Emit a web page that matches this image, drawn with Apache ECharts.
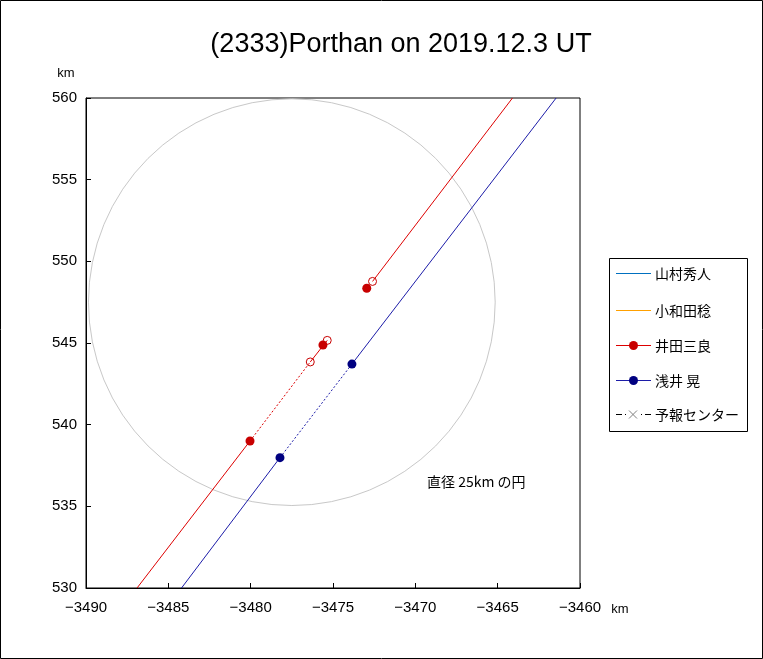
<!DOCTYPE html>
<html><head><meta charset="utf-8">
<script src="https://cdn.jsdelivr.net/npm/echarts@6/dist/echarts.min.js"></script>
<style>html,body{margin:0;padding:0;background:#fff}#c{width:763px;height:659px}</style>
</head><body><div id="c"></div>
<script>
// ---- data ----
const titleText = '(2333)Porthan on 2019.12.3 UT';
const xRange = [-3490, -3460];
const yRange = [530, 560];
const tickStep = 5;
const axisUnit = 'km';
const circleData = [[-3477.5, 547.5, 12.4]];   // centre x, centre y, radius (km)
const circleLabel = '直径 25km の円';
const legendNames = ['山村秀人', '小和田稔', '井田三良', '浅井 晃', '予報センター'];

const idaSolid1 = [[-3486.9, 530], [-3480.04, 539.0]];
const idaDotted = [[-3480.04, 539.0], [-3476.38, 543.84]];
const idaSolid2 = [[-3476.38, 543.84], [-3475.35, 545.16]];
const idaSolid3 = [[-3472.60, 548.77], [-3464.1, 560]];
const idaFilled = [[-3480.04, 539.0], [-3475.61, 544.88], [-3472.95, 548.35]];
const idaOpen = [[-3476.38, 543.84], [-3475.35, 545.16], [-3472.60, 548.77]];

const asaiSolid1 = [[-3484.2, 530], [-3478.22, 537.98]];
const asaiDotted = [[-3478.22, 537.98], [-3473.85, 543.71]];
const asaiSolid2 = [[-3473.85, 543.71], [-3461.45, 560]];
const asaiFilled = [[-3478.22, 537.98], [-3473.85, 543.71]];

// ---- styles ----
const RED_LINE = '#dd0000', RED_DOT = '#c80000';
const BLUE_LINE = '#1c1ca8', BLUE_DOT = '#000080';
const LEG_COLORS = ['#0070c0', '#ffa000', RED_LINE, BLUE_LINE, '#000000'];
const LATIN = "'Liberation Sans', Arial, sans-serif";
const CJK = "'Noto Sans CJK JP', sans-serif";

function seg(data, color, dashed) {
  return {
    type: 'line', data: data, symbol: 'none', silent: true, z: 3,
    lineStyle: { color: color, width: 1, type: dashed ? [2, 2] : 'solid', opacity: 1 }
  };
}
function dots(data, color, open) {
  return {
    type: 'scatter', data: data, symbol: 'circle', symbolSize: open ? 8 : 9, silent: true, z: 5,
    itemStyle: open ? { color: 'rgba(0,0,0,0)', borderColor: color, borderWidth: 1, opacity: 1 } : { color: color, opacity: 1 }
  };
}

const chart = echarts.init(document.getElementById('c'), null, { renderer: 'canvas' });
const fmt = v => String(v).replace('-', '\u2212');

// legend built from graphics
const legendG = [];
const legX0 = 609, legY0 = 258, legYs = [273, 310, 345, 380, 414];
legendG.push({ type: 'rect', shape: { x: legX0 + 0.5, y: legY0 + 0.5, width: 138, height: 173 },
  style: { fill: '#fff', stroke: '#000', lineWidth: 1 }, z: 20 });
legendNames.forEach((n, i) => {
  const y = legYs[i] + 0.5;
  if (i !== 4) {
    legendG.push({ type: 'line', shape: { x1: 616, y1: y, x2: 651, y2: y },
      style: { stroke: LEG_COLORS[i], lineWidth: 1 }, z: 21 });
  } else {
    [[616, 622], [625, 626], [641, 642], [645, 651]].forEach(p => {
      legendG.push({ type: 'line', shape: { x1: p[0], y1: y, x2: p[1], y2: y },
        style: { stroke: '#000', lineWidth: 1 }, z: 21 });
    });
    legendG.push({ type: 'line', shape: { x1: 629, y1: y - 4, x2: 637, y2: y + 4 }, style: { stroke: '#808080', lineWidth: 1 }, z: 23 });
    legendG.push({ type: 'line', shape: { x1: 637, y1: y - 4, x2: 629, y2: y + 4 }, style: { stroke: '#808080', lineWidth: 1 }, z: 23 });
  }
  if (i === 2 || i === 3) {
    legendG.push({ type: 'circle', shape: { cx: 633.5, cy: y, r: 4.5 },
      style: { fill: i === 2 ? RED_DOT : BLUE_DOT }, z: 22 });
  }
  legendG.push({ type: 'text', x: 655, y: y, style: { text: n, fill: '#000', font: '14px ' + CJK, verticalAlign: 'middle', align: 'left' }, z: 21 });
});

chart.setOption({
  animation: false,
  backgroundColor: '#fff',
  grid: { left: 86, top: 98, width: 494, height: 490, show: true, borderColor: '#000', borderWidth: 1, backgroundColor: '#fff' },
  xAxis: {
    type: 'value', min: xRange[0], max: xRange[1], interval: tickStep,
    axisLine: { show: true, onZero: false, lineStyle: { color: '#000', width: 1 } },
    axisTick: { show: true, inside: true, length: 5, lineStyle: { color: '#000' } },
    splitLine: { show: false },
    axisLabel: { formatter: fmt, color: '#000', fontSize: 15, fontFamily: LATIN, margin: 12 }
  },
  yAxis: {
    type: 'value', min: yRange[0], max: yRange[1], interval: tickStep,
    axisLine: { show: true, onZero: false, lineStyle: { color: '#000', width: 1 } },
    axisTick: { show: true, inside: true, length: 5, lineStyle: { color: '#000' } },
    splitLine: { show: false },
    axisLabel: { formatter: fmt, color: '#000', fontSize: 15, fontFamily: LATIN, margin: 9 }
  },
  graphic: [
    { type: 'rect', shape: { x: 0.5, y: 0.5, width: 762, height: 658 }, style: { fill: 'none', stroke: '#000', lineWidth: 1 }, z: 0, silent: true },
    { type: 'text', x: 401, y: 45, style: { text: titleText, fill: '#000', font: '27px ' + LATIN, align: 'center', verticalAlign: 'middle' } },
    { type: 'text', x: 66, y: 73, style: { text: axisUnit, fill: '#000', font: '13px ' + LATIN, align: 'center', verticalAlign: 'middle' } },
    { type: 'text', x: 620, y: 609, style: { text: axisUnit, fill: '#000', font: '13px ' + LATIN, align: 'center', verticalAlign: 'middle' } },
    { type: 'text', x: 427, y: 482, style: { text: circleLabel, fill: '#000', font: '14px ' + CJK, align: 'left', verticalAlign: 'middle' } }
  ].concat(legendG),
  series: [
    {
      type: 'custom', data: circleData, silent: true, z: 2,
      renderItem: function (params, api) {
        const c = api.coord([api.value(0), api.value(1)]);
        const s = api.size([api.value(2), api.value(2)]);
        return { type: 'circle', shape: { cx: c[0], cy: c[1], r: (s[0] + s[1]) / 2 },
          style: { fill: 'none', stroke: '#c8c8c8', lineWidth: 1 } };
      }
    },
    seg(idaSolid1, RED_LINE), seg(idaDotted, RED_LINE, true), seg(idaSolid2, RED_LINE), seg(idaSolid3, RED_LINE),
    seg(asaiSolid1, BLUE_LINE), seg(asaiDotted, BLUE_LINE, true), seg(asaiSolid2, BLUE_LINE),
    dots(idaOpen, RED_DOT, true), dots(idaFilled, RED_DOT, false), dots(asaiFilled, BLUE_DOT, false)
  ]
});
</script></body></html>
